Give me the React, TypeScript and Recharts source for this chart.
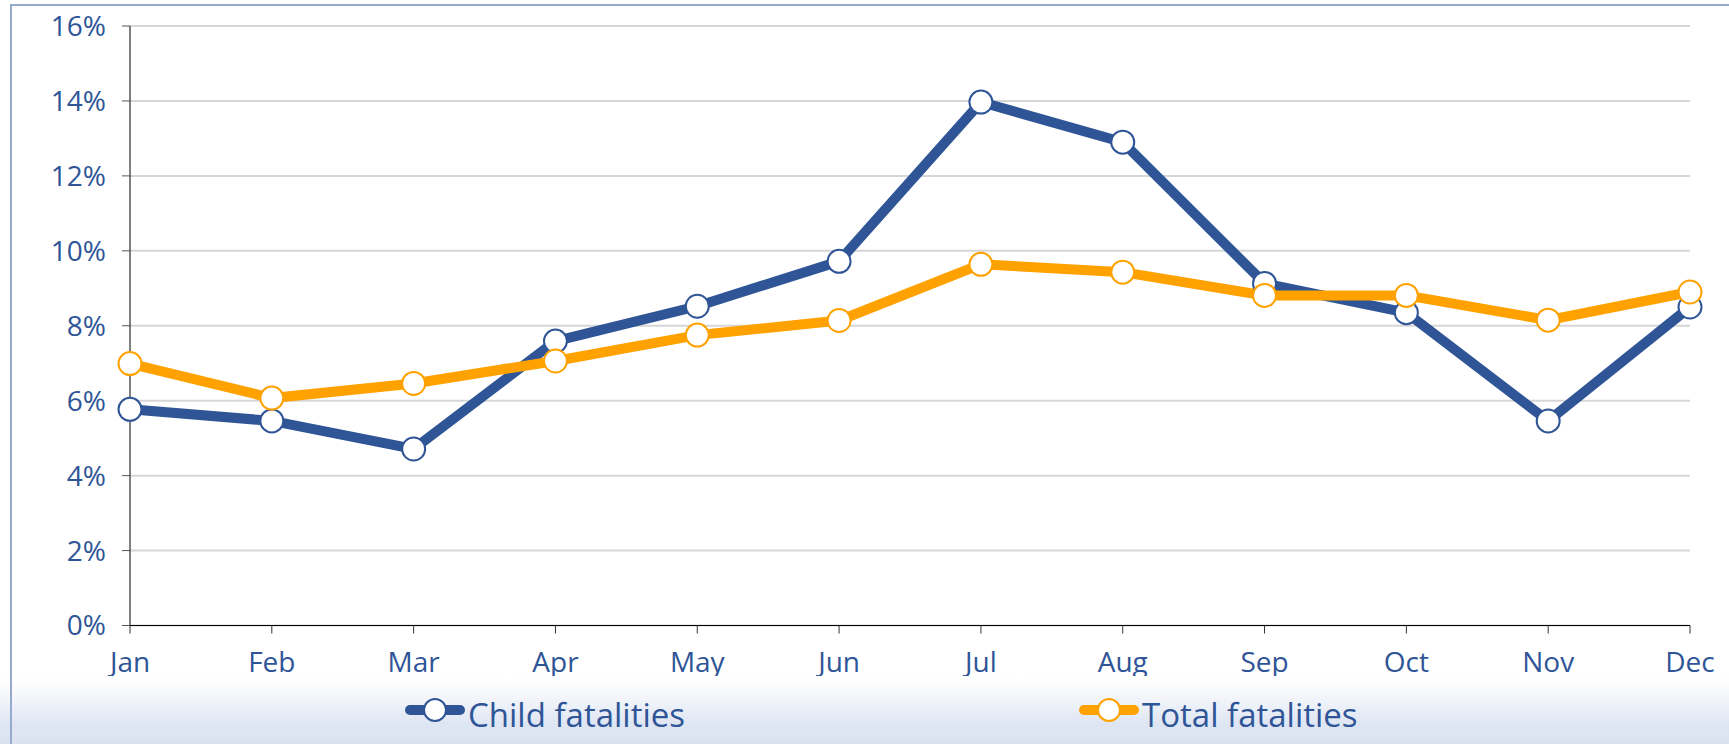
import { LineChart, Line, XAxis, YAxis, CartesianGrid } from 'recharts'

// months on the x axis
const MONTHS = ['Jan', 'Feb', 'Mar', 'Apr', 'May', 'Jun', 'Jul', 'Aug', 'Sep', 'Oct', 'Nov', 'Dec']

// share of the yearly fatalities per month, in %
const CHILD_FATALITIES = [5.77, 5.46, 4.71, 7.59, 8.52, 9.72, 13.97, 12.9, 9.13, 8.35, 5.46, 8.5]
const TOTAL_FATALITIES = [6.99, 6.07, 6.46, 7.06, 7.75, 8.14, 9.64, 9.43, 8.81, 8.81, 8.15, 8.9]

const Y_TICKS = [0, 2, 4, 6, 8, 10, 12, 14, 16]

const COLORS = {
  child: '#2F5597',
  total: '#FFA200',
  text: '#2F5597',
  grid: '#D6D6D6',
  frame: '#95AACE',
}

const SERIES = [
  { key: 'child', name: 'Child fatalities', stroke: COLORS.child, values: CHILD_FATALITIES, legendX: 405 },
  { key: 'total', name: 'Total fatalities', stroke: COLORS.total, values: TOTAL_FATALITIES, legendX: 1079 },
]

const FONT = '"Open Sans", "Noto Sans", sans-serif'
const WIDTH = 1729
const HEIGHT = 744
const LEGEND_TOP = 676

const chartData = MONTHS.map((month, i) => {
  const point: any = { month }
  SERIES.forEach(s => {
    point[s.key] = s.values[i]
  })
  return point
})

// legend drawn over the bottom of the chart, like the original (it hides the descenders of the month labels)
function ChartLegend() {
  const h = HEIGHT - LEGEND_TOP
  return (
    <svg width={WIDTH} height={h} style={{ position: 'absolute', left: 0, top: LEGEND_TOP }}>
      <defs>
        <linearGradient id="legendBg" x1="0" y1="0" x2="0" y2="1">
          <stop offset="0%" stopColor="#FFFFFF" />
          <stop offset="10%" stopColor="#FEFEFF" />
          <stop offset="70%" stopColor="#DFE6F3" />
          <stop offset="100%" stopColor="#DAE2F1" />
        </linearGradient>
      </defs>
      <rect x={0} y={0} width={WIDTH} height={h} fill="url(#legendBg)" />
      {SERIES.map(s => (
        <g key={s.key}>
          <line
            x1={s.legendX + 5}
            x2={s.legendX + 55}
            y1={34}
            y2={34}
            stroke={s.stroke}
            strokeWidth={10}
            strokeLinecap="round"
          />
          <circle cx={s.legendX + 30} cy={34} r={11} fill="#fff" stroke={s.stroke} strokeWidth={2} />
          <text x={s.legendX + 63} y={50.5} fill={COLORS.text} fontSize={33} fontFamily={FONT}>
            {s.name}
          </text>
        </g>
      ))}
    </svg>
  )
}

export default function App() {
  return (
    <div
      style={{
        position: 'absolute',
        left: 0,
        top: 0,
        width: WIDTH,
        height: HEIGHT,
        background: '#fff',
        overflow: 'hidden',
      }}
    >
      <LineChart
        width={WIDTH}
        height={HEIGHT}
        data={chartData}
        margin={{ top: 26, right: 39, left: 0, bottom: 0 }}
      >
        <CartesianGrid vertical={false} stroke={COLORS.grid} strokeWidth={2} />
        <XAxis
          dataKey="month"
          interval={0}
          height={118.5}
          axisLine={{ stroke: '#000', strokeWidth: 1 }}
          tickLine={{ stroke: '#333' }}
          tickSize={8}
          tickMargin={19}
          tick={{ fill: COLORS.text, fontSize: 28, fontFamily: FONT }}
        />
        <YAxis
          width={130}
          domain={[0, 16]}
          ticks={Y_TICKS}
          tickFormatter={v => `${v}%`}
          axisLine={{ stroke: '#000', strokeWidth: 1 }}
          tickLine={{ stroke: '#555' }}
          tickSize={8}
          tickMargin={16}
          tick={{ fill: COLORS.text, fontSize: 28, fontFamily: FONT }}
        />
        {SERIES.map(s => (
          <Line
            key={s.key}
            type="linear"
            dataKey={s.key}
            name={s.name}
            stroke={s.stroke}
            strokeWidth={10}
            dot={{ r: 11.5, fill: '#fff', stroke: s.stroke, strokeWidth: 2 }}
            activeDot={false}
            isAnimationActive={false}
          />
        ))}
      </LineChart>
      <ChartLegend />
      {/* thin frame on the top and left edges */}
      <div
        style={{
          position: 'absolute',
          left: 10,
          top: 4,
          right: 0,
          bottom: 0,
          borderTop: `2px solid ${COLORS.frame}`,
          borderLeft: `2px solid ${COLORS.frame}`,
          pointerEvents: 'none',
        }}
      />
    </div>
  )
}
